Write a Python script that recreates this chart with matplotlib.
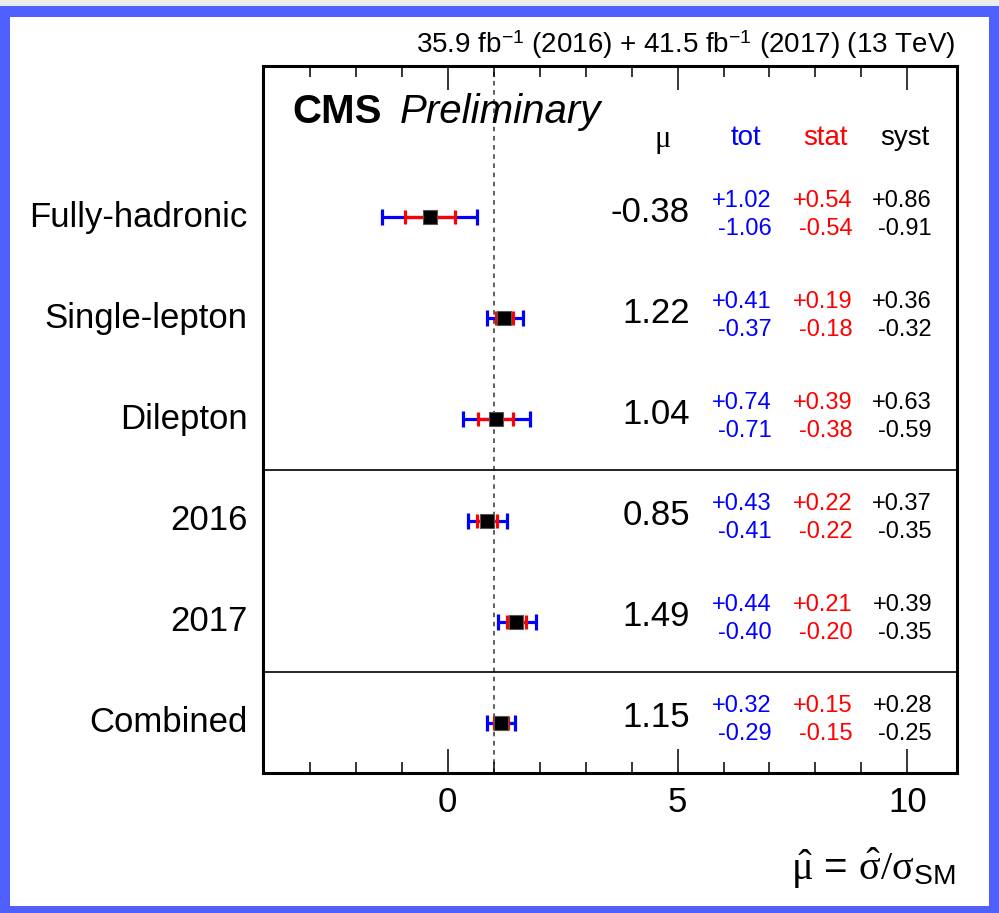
import numpy as np
import matplotlib
matplotlib.use("Agg")
import matplotlib.pyplot as plt
from matplotlib.patches import Rectangle
from matplotlib.ticker import FixedLocator
from matplotlib.transforms import blended_transform_factory

plt.rcParams['font.family'] = ['Liberation Sans', 'DejaVu Sans']
plt.rcParams['mathtext.fontset'] = 'custom'
plt.rcParams['mathtext.rm'] = 'Liberation Serif'
plt.rcParams['mathtext.it'] = 'Liberation Serif:italic'
plt.rcParams['mathtext.sf'] = 'Liberation Sans'
plt.rcParams['mathtext.default'] = 'rm'

# fit results, top row first
labels = ['Fully-hadronic', 'Single-lepton', 'Dilepton', '2016', '2017', 'Combined']
mu = [-0.38, 1.22, 1.04, 0.85, 1.49, 1.15]
tot_up = [1.02, 0.41, 0.74, 0.43, 0.44, 0.32]
tot_dn = [1.06, 0.37, 0.71, 0.41, 0.40, 0.29]
stat_up = [0.54, 0.19, 0.39, 0.22, 0.21, 0.15]
stat_dn = [0.54, 0.18, 0.38, 0.22, 0.20, 0.15]
syst_up = [0.86, 0.36, 0.63, 0.37, 0.39, 0.28]
syst_dn = [0.91, 0.32, 0.59, 0.35, 0.35, 0.25]
separators_after = ['Dilepton', '2017']  # horizontal lines below these rows
sm_value = 1.0

BLUE = '#0000ff'
RED = '#ff0000'

W, H = 999, 913
fig = plt.figure(figsize=(W / 100, H / 100), dpi=100)
fig.patch.set_facecolor('#5060ff')
# slide-like frame: light strip on top, white interior
fig.add_artist(Rectangle((0, (H - 6) / H), 1, 6 / H, transform=fig.transFigure,
                         facecolor='#ececec', edgecolor='none', zorder=-10))
fig.add_artist(Rectangle((10 / W, 7 / H), 979 / W, 889 / H, transform=fig.transFigure,
                         facecolor='white', edgecolor='none', zorder=-10))

ax = fig.add_axes([263 / W, 140 / H, 694 / W, 707 / H])
n = len(labels)
ypos = np.arange(n)[::-1] + 0.5

ax.set_xlim(-4.02, 11.08)
ax.set_ylim(0, n + 1)

ax.axvline(sm_value, color='#333333', lw=1.1, ls=(0, (3, 3)), zorder=1)
for name in separators_after:
    yy = ypos[labels.index(name)] - 0.5
    ax.axhline(yy, color='black', lw=1.2, zorder=1)

ax.errorbar(mu, ypos, xerr=[tot_dn, tot_up], fmt='none', ecolor=BLUE,
            elinewidth=2.3, capsize=5.5, capthick=2.3, zorder=3)
ax.errorbar(mu, ypos, xerr=[stat_dn, stat_up], fmt='none', ecolor=RED,
            elinewidth=2.3, capsize=5.0, capthick=2.3, zorder=4)
ax.plot(mu, ypos, ls='none', marker='s', ms=10, mfc='black', mec='#555555',
        mew=0.8, zorder=5)

tr = blended_transform_factory(ax.transAxes, ax.transData)
for i, y in enumerate(ypos):
    ax.text(-0.022, y, labels[i], transform=tr, ha='right', va='center', fontsize=25)
    ax.text(0.615, y + 0.05, f'{mu[i]:.2f}', transform=tr, ha='right', va='center',
            fontsize=25)
    cols = [(0.733, tot_up[i], tot_dn[i], BLUE),
            (0.849, stat_up[i], stat_dn[i], RED),
            (0.964, syst_up[i], syst_dn[i], 'black')]
    for xc, up, dn, col in cols:
        ax.text(xc, y + 0.165, f'+{up:.2f}', transform=tr, ha='right', va='center',
                fontsize=17, color=col)
        ax.text(xc, y - 0.115, f'-{dn:.2f}', transform=tr, ha='right', va='center',
                fontsize=17, color=col)

hy = n + 0.29
ax.text(0.576, hy - 0.02, 'μ', transform=tr, ha='center', va='center', fontsize=22,
        family='Liberation Serif')
ax.text(0.696, hy, 'tot', transform=tr, ha='center', va='center', fontsize=20, color=BLUE)
ax.text(0.810, hy, 'stat', transform=tr, ha='center', va='center', fontsize=20, color=RED)
ax.text(0.925, hy, 'syst', transform=tr, ha='center', va='center', fontsize=20)

ax.text(0.042, n + 0.54, 'CMS', transform=tr, ha='left', va='center', fontsize=29,
        fontweight='bold')
ax.text(0.197, n + 0.54, 'Preliminary', transform=tr, ha='left', va='center',
        fontsize=29, style='italic')

ax.text(0.997, 1.03, r'35.9 fb$^{\mathsf{-1}}$ (2016) + 41.5 fb$^{\mathsf{-1}}$ (2017) (13 TeV)',
        transform=ax.transAxes, ha='right', va='center', fontsize=20)
ax.text(0.997, -0.135, r'$\hat{\mu}$ = $\hat{\sigma}/\sigma_{\mathsf{SM}}$',
        transform=ax.transAxes, ha='right', va='center', fontsize=29)

ax.set_xticks([0, 5, 10])
ax.xaxis.set_minor_locator(FixedLocator(np.arange(-3, 11)))
ax.tick_params(axis='x', which='both', direction='in', top=True, bottom=True,
               labelsize=25, pad=9, width=1.1)
ax.tick_params(axis='x', which='major', length=17)
ax.tick_params(axis='x', which='minor', length=8)
ax.set_yticks([])
for sp in ax.spines.values():
    sp.set_linewidth(2.2)

fig.savefig('out.png', dpi=100)
